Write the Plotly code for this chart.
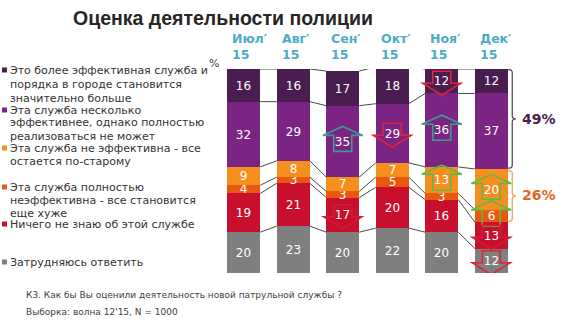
import plotly.graph_objects as go

# --- data -------------------------------------------------------------
months = ["Июл′", "Авг′", "Сен′", "Окт′", "Ноя′", "Дек′"]
year_label = "15"

# answer shares, %, listed from the bottom of each column upwards
hard_to_say = [20, 23, 20, 22, 20, 12]
know_nothing = [19, 21, 17, 20, 16, 13]
much_worse = [4, 3, 3, 5, 3, 6]
same_as_before = [9, 8, 7, 7, 13, 20]
somewhat_better = [32, 29, 35, 29, 36, 37]
much_better = [16, 16, 17, 18, 12, 12]

legend_much_better = ["Это более эффективная служба и", "порядка в городе становится", "значительно больше"]
legend_somewhat_better = ["Эта служба несколько", "эффективнее, однако полностью", "реализоваться не может"]
legend_same = ["Эта служба не эффективна - все", "остается по-старому"]
legend_worse = ["Эта служба полностью", "неэффективна - все становится", "еще хуже"]
legend_know_nothing = ["Ничего не знаю об этой службе"]
legend_hard = ["Затрудняюсь ответить"]

# statistically significant changes vs. previous wave: (month index, series, direction)
changes = [
    (2, "somewhat_better", "up"),
    (2, "know_nothing", "down"),
    (3, "somewhat_better", "down"),
    (4, "much_better", "down"),
    (4, "somewhat_better", "up"),
    (4, "same_as_before", "up"),
    (5, "same_as_before", "up"),
    (5, "much_worse", "up"),
    (5, "know_nothing", "down"),
    (5, "hard_to_say", "down"),
]

question = "К3. Как бы Вы оценили деятельность новой патрульной службы ?"
sample = "Выборка: волна 12'15, N = 1000"
title = "Оценка деятельности полиции"

# --- styling ----------------------------------------------------------
series = [
    ("hard_to_say", hard_to_say, "#7F7F7F", legend_hard, [262]),
    ("know_nothing", know_nothing, "#C8102E", legend_know_nothing, [224]),
    ("much_worse", much_worse, "#E8590F", legend_worse, [187, 200, 213]),
    ("same_as_before", same_as_before, "#F5901E", legend_same, [148, 161]),
    ("somewhat_better", somewhat_better, "#7B2483", legend_somewhat_better, [110, 123, 136]),
    ("much_better", much_better, "#4A1D50", legend_much_better, [70, 84, 98]),
]

W, H = 587, 322
ML, MR, MT, MB = 219, 71, 69, 49
PW, PH = W - ML - MR, H - MT - MB
UNIT_PX = PW / 6.0          # pixels per category
Y_PX = PH / 100.0           # pixels per percent
BAR_W = 0.667

def paper_x(px):
    return (px - ML) / PW

def paper_y(py):
    return (H - MB - py) / PH

fig = go.Figure()
x_idx = list(range(len(months)))

for key, vals, color, _, _ in series:
    fig.add_trace(go.Bar(
        x=x_idx, y=vals, width=BAR_W, marker=dict(color=color, line=dict(width=0)),
        text=[str(v) for v in vals], textposition="inside", insidetextanchor="middle",
        constraintext="none", textangle=0,
        textfont=dict(color="white", size=12, family="DejaVu Sans"),
        hoverinfo="skip", showlegend=False,
    ))

# cumulative boundaries per column
bounds = [[0] * len(months)]
for _, vals, _, _, _ in series:
    bounds.append([b + v for b, v in zip(bounds[-1], vals)])

# thin connector lines between neighbouring columns
cx, cy = [], []
for level in bounds[1:]:
    for i in range(len(months) - 1):
        cx += [i + BAR_W / 2, i + 1 - BAR_W / 2, None]
        cy += [level[i], level[i + 1], None]
fig.add_trace(go.Scatter(x=cx, y=cy, mode="lines", line=dict(color="#1a1a1a", width=0.8),
                         hoverinfo="skip", showlegend=False))

shapes = []
annotations = []

# significance arrows
key_pos = {s[0]: n for n, s in enumerate(series)}
up_colors = {"somewhat_better": "#3F9A8C"}
down_colors = {"know_nothing": "#D41A33"}

def arrow_path(xc, yc, pts):
    out = []
    for n, (dx, dy) in enumerate(pts):
        X = xc + dx / UNIT_PX
        Y = yc - dy / Y_PX
        out.append(("M" if n == 0 else "L") + f"{X:.4f},{Y:.4f}")
    return " ".join(out) + " Z"

UP = [(-9, 10), (-9, -6), (-20, -6), (0, -15), (20, -6), (9, -6), (9, 10)]
DOWN = [(-9, -10), (9, -10), (9, 2), (19, 2), (0, 14), (-19, 2), (-9, 2)]

for i, key, direction in changes:
    k = key_pos[key]
    mid = bounds[k][i] + series[k][1][i] / 2
    if direction == "up":
        col = up_colors.get(key, "#5CB848")
        pts = UP
    else:
        col = down_colors.get(key, "#DE2439")
        pts = DOWN
    shapes.append(dict(type="path", xref="x", yref="y", path=arrow_path(i, mid, pts),
                       line=dict(color=col, width=1.6), fillcolor="rgba(0,0,0,0)", layer="above"))

# brackets on the last column
last = len(months) - 1
edge = last + BAR_W / 2

def bracket(ytop, ybot, color):
    xe = edge + 0.3 / UNIT_PX
    xv = edge + 4.5 / UNIT_PX
    xt = edge + 8.5 / UNIT_PX
    r = 3 / Y_PX
    ym = (ytop + ybot) / 2
    p = (f"M{xe:.4f},{ytop:.4f} Q{xv:.4f},{ytop:.4f} {xv:.4f},{ytop - r:.4f} "
         f"L{xv:.4f},{ym + r:.4f} Q{xv:.4f},{ym:.4f} {xt:.4f},{ym:.4f} "
         f"Q{xv:.4f},{ym:.4f} {xv:.4f},{ym - r:.4f} "
         f"L{xv:.4f},{ybot + r:.4f} Q{xv:.4f},{ybot:.4f} {xe:.4f},{ybot:.4f}")
    return dict(type="path", xref="x", yref="y", path=p, line=dict(color=color, width=1.3),
                layer="above")

top_share = somewhat_better[last] + much_better[last]
neg_share = same_as_before[last] + much_worse[last]
b_top, b_mid, b_low = bounds[6][last], bounds[4][last], bounds[2][last]
shapes.append(bracket(b_top - 0.3, b_mid + 0.4, "#5E4A66"))
shapes.append(bracket(b_mid - 0.8, b_low + 0.3, "#F4A05A"))
annotations.append(dict(x=edge, y=(b_top + b_mid) / 2, xref="x", yref="y", xanchor="left", yanchor="middle",
                        xshift=12, text=f"<b>{top_share}%</b>", showarrow=False,
                        font=dict(size=14, color="#4A1D50", family="DejaVu Sans")))
annotations.append(dict(x=edge, y=(b_mid + b_low) / 2, xref="x", yref="y", xanchor="left", yanchor="middle",
                        xshift=12, text=f"<b>{neg_share}%</b>", showarrow=False,
                        font=dict(size=14, color="#E2661A", family="DejaVu Sans")))

# column headers
for i, m in enumerate(months):
    annotations.append(dict(x=i - BAR_W / 2, y=100, xref="x", yref="y", xanchor="left", yanchor="bottom",
                            xshift=3, yshift=5, align="left", text=f"<b>{m}<br>{year_label}</b>",
                            showarrow=False, font=dict(size=12.5, color="#4BACC6", family="DejaVu Sans")))

annotations.append(dict(x=paper_x(214), y=paper_y(63), xref="paper", yref="paper", xanchor="center",
                        yanchor="middle", text="%", showarrow=False,
                        font=dict(size=11, color="#404040", family="DejaVu Sans")))

# legend drawn by hand on the left
for key, vals, color, lines, ys in series:
    shapes.append(dict(type="rect", xref="paper", yref="paper",
                       x0=paper_x(2), x1=paper_x(7), y0=paper_y(ys[0] + 2.5), y1=paper_y(ys[0] - 2.5),
                       fillcolor=color, line=dict(width=0)))
    for line, py in zip(lines, ys):
        annotations.append(dict(x=paper_x(8), y=paper_y(py), xref="paper", yref="paper", xanchor="left",
                                yanchor="middle", text=line, showarrow=False,
                                font=dict(size=11, color="#333333", family="DejaVu Sans")))

# title and footnote
annotations.append(dict(x=paper_x(71), y=paper_y(18), xref="paper", yref="paper", xanchor="left",
                        yanchor="middle", text=f"<b>{title}</b>", showarrow=False,
                        font=dict(size=19.5, color="#262626", family="Liberation Sans")))
annotations.append(dict(x=paper_x(24), y=paper_y(295), xref="paper", yref="paper", xanchor="left",
                        yanchor="middle", text=question, showarrow=False,
                        font=dict(size=9, color="#404040", family="DejaVu Sans")))
annotations.append(dict(x=paper_x(24), y=paper_y(312), xref="paper", yref="paper", xanchor="left",
                        yanchor="middle", text=sample, showarrow=False,
                        font=dict(size=9, color="#404040", family="DejaVu Sans")))

fig.update_layout(
    width=W, height=H, margin=dict(l=ML, r=MR, t=MT, b=MB),
    barmode="stack", bargap=0,
    paper_bgcolor="white", plot_bgcolor="white",
    xaxis=dict(range=[-0.5, 5.5], visible=False, fixedrange=True),
    yaxis=dict(range=[0, 100], visible=False, fixedrange=True),
    shapes=shapes, annotations=annotations,
)

fig.write_html("out.html", config={"displayModeBar": False})
